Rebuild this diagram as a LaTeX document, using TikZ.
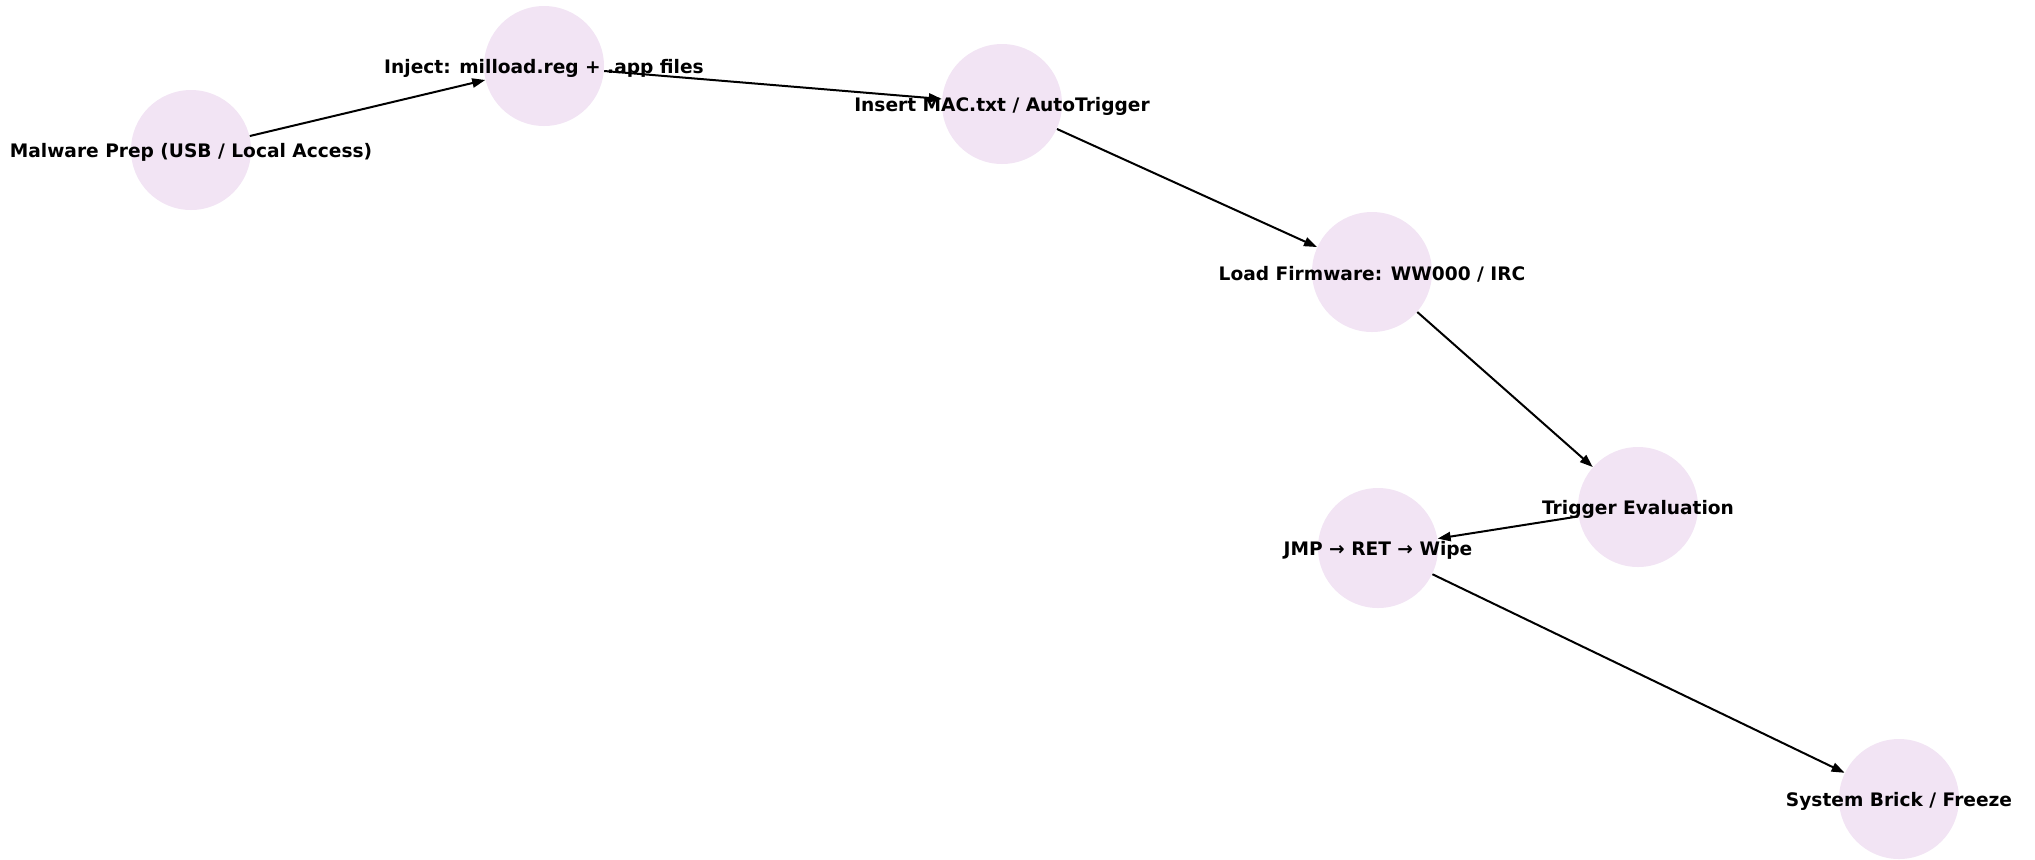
\documentclass[tikz,border=0pt]{standalone}
\usepackage{fontspec}
\setmainfont{DejaVu Sans}
\usepackage{tikz}
\usetikzlibrary{arrows.meta}
\definecolor{Ink}{HTML}{000000}
\definecolor{Lilac}{HTML}{F2E4F4}
\tikzset{
  stage/.style={circle,fill=Lilac,draw=none,minimum size=60pt,inner sep=0pt},
  stagetext/.style={font=\fontsize{9.3}{11}\selectfont\bfseries,text=Ink,inner sep=0pt,yshift=-1.3pt},
  arrow/.style={-{Triangle[length=6.5pt,width=4.6pt]},line width=1pt,draw=Ink}
}
\begin{document}
\begin{tikzpicture}[x=0.5pt,y=-0.5pt]
  \useasboundingbox (0,0) rectangle (2035,859);
  \node[stage] (prep) at (191,150) {};
  \node[stage] (inject) at (544,66) {};
  \node[stage] (mac) at (1002,104) {};
  \node[stage] (load) at (1372,272) {};
  \node[stage] (trig) at (1638,507) {};
  \node[stage] (jmp) at (1378,548) {};
  \node[stage] (brick) at (1899,799) {};
  \draw[arrow] (prep)--(inject); \draw[arrow] (inject)--(mac); \draw[arrow] (mac)--(load);
  \draw[arrow] (load)--(trig); \draw[arrow] (trig)--(jmp); \draw[arrow] (jmp)--(brick);
  \node[stagetext] (prepT) at (prep) {Malware Prep (USB / Local Access)};
  \node[stagetext] (injectT) at (inject) {Inject: milload.reg + .app files};
  \node[stagetext] (macT) at (mac) {Insert MAC.txt / AutoTrigger};
  \node[stagetext] (loadT) at (load) {Load Firmware: WW000 / IRC};
  \node[stagetext] (trigT) at (trig) {Trigger Evaluation};
  \node[stagetext] (jmpT) at (jmp) {JMP → RET → Wipe};
  \node[stagetext] (brickT) at (brick) {System Brick / Freeze};
\end{tikzpicture}
\end{document}
